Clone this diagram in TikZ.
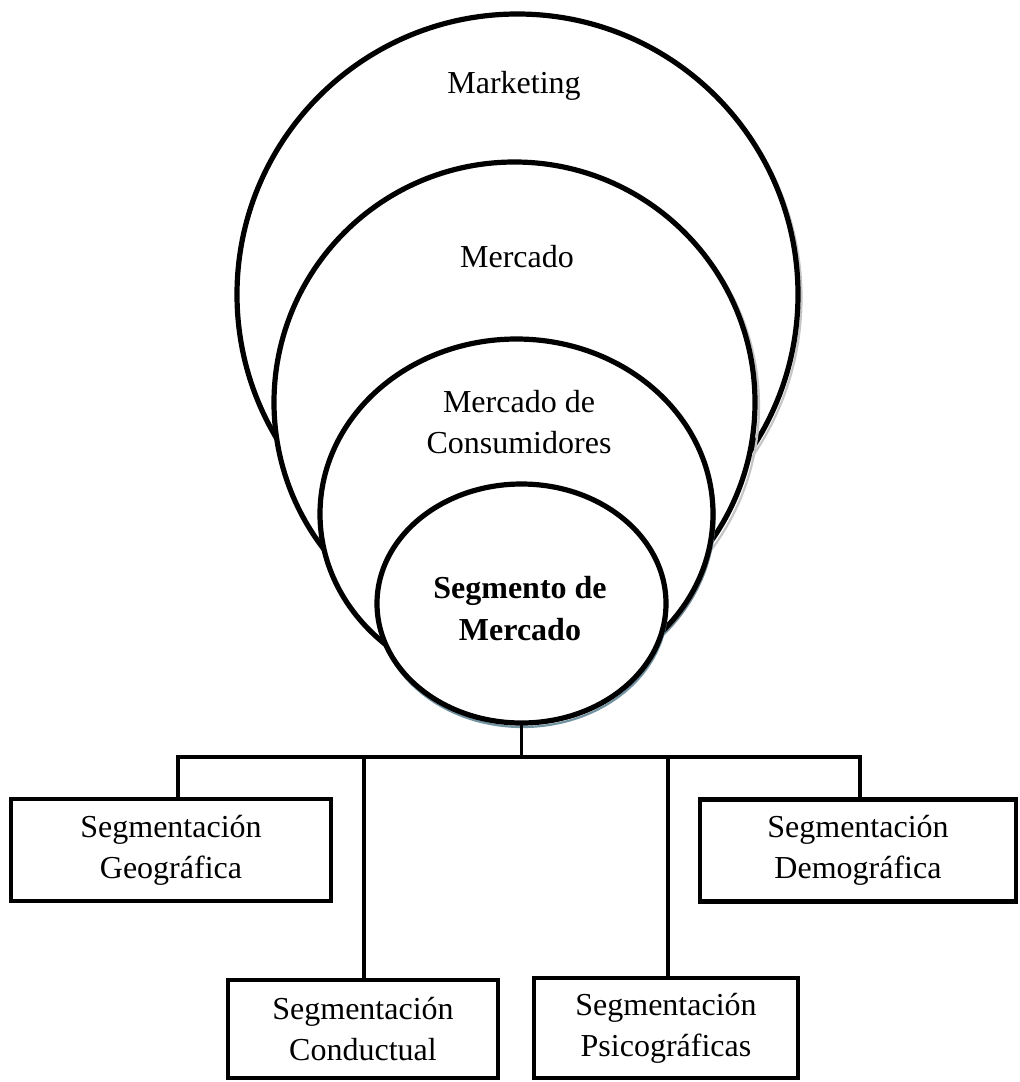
\documentclass[tikz,border=0pt]{standalone}
\usepackage{fontspec}
\setmainfont{Liberation Serif}
\usetikzlibrary{shapes.geometric}
\begin{document}
\begin{tikzpicture}[x=0.5pt,y=-0.5pt,
  ring/.style={ellipse, draw=black, line width=2.6pt, fill=white, inner sep=0pt, outer sep=0pt},
  shadowline/.style={draw=#1, line width=1.1pt},
  lbl/.style={font=\fontsize{16}{20.5}\selectfont, align=center, inner sep=0pt},
  blbl/.style={font=\fontsize{16}{21}\selectfont\bfseries, align=center, inner sep=0pt},
  segbox/.style={draw=black, line width=2.2pt, fill=white, inner sep=0pt, outer sep=0pt,
                 font=\fontsize{16}{20.5}\selectfont, align=center},
  link/.style={draw=black, line width=1.9pt}]
\useasboundingbox (0,0) rectangle (1019,1082);

% Marketing
\draw[shadowline=gray!45] (521,298) ellipse [x radius=280.5, y radius=280.5];
\node[ring, minimum width=280.5pt, minimum height=280.5pt] (mkt) at (517.5,294.5) {};
% Mercado
\draw[shadowline=gray!45] (518.5,406) ellipse [x radius=240.5, y radius=240.5];
\node[ring, minimum width=240.5pt, minimum height=240.5pt] (mer) at (514.5,402.5) {};
% Mercado de Consumidores
\draw[shadowline=black!40!cyan!40!gray] (518,517) ellipse [x radius=196.5, y radius=175];
\node[ring, minimum width=196.5pt, minimum height=175pt] (con) at (516.5,514) {};
% Segmento de Mercado
\draw[shadowline=black!30!cyan!45!gray] (522.5,607.5) ellipse [x radius=144.5, y radius=119.5];
\node[ring, minimum width=144.5pt, minimum height=119.5pt] (seg) at (521.5,603.5) {};

% labels
\node[lbl, anchor=base] (tmkt) at (514,93) {Marketing};
\node[lbl, anchor=base] (tmer) at (517,267) {Mercado};
\node[lbl] (tcon) at (519,422) {Mercado de\\Consumidores};
\node[blbl] (tseg) at (520,609) {Segmento de\\Mercado};

% tree coordinates
\coordinate (bg) at (178,757);
\coordinate (bc) at (364,757);
\coordinate (bp) at (668,757);
\coordinate (bd) at (860,757);

% boxes
\node[segbox, minimum width=160pt, minimum height=51pt] (geo) at (171,850) {Segmentación\\Geográfica};
\node[segbox, minimum width=158pt, minimum height=51pt] (demo) at (858,850.5) {Segmentación\\Demográfica};
\node[segbox, minimum width=135pt, minimum height=49pt] (cond) at (363,1029) {Segmentación\\Conductual};
\node[segbox, minimum width=132pt, minimum height=50pt] (psico) at (666,1028) {Segmentación\\Psicográficas};

% connectors
\draw[link] (seg.south) -- (seg.south |- bg);
\draw[link] (geo.north -| bg) -- (bg) -- (bd) -- (demo.north -| bd);
\draw[link] (bc) -- (cond.north -| bc);
\draw[link] (bp) -- (psico.north -| bp);
\end{tikzpicture}
\end{document}
